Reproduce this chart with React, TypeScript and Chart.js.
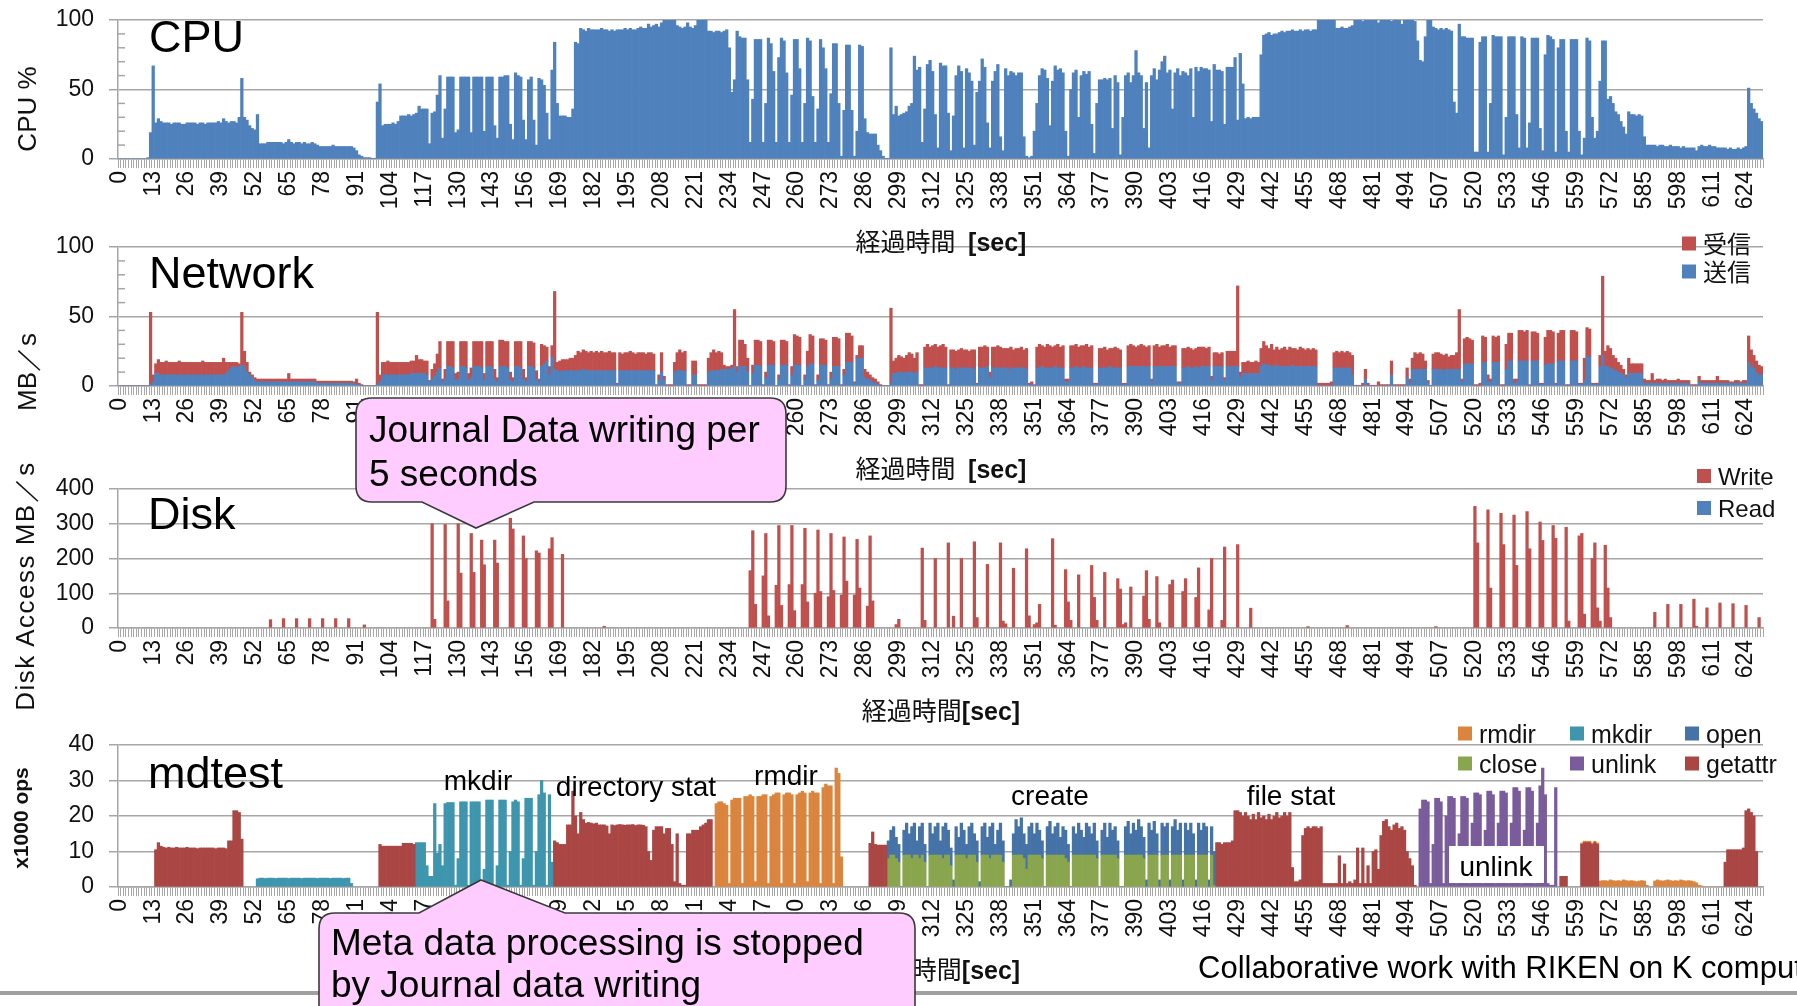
import React, { useEffect, useRef } from "react";
import { Chart, registerables } from "chart.js";

Chart.register(...registerables);

const W = 1797;
const H = 1006;
const N_SECONDS = 631;
const LABEL_STEP = 13;
const seconds = Array.from({ length: N_SECONDS }, (_, i) => String(i));

const LATIN = '"Liberation Sans", Arial, Helvetica, sans-serif';
const CJK = '"Noto Sans CJK JP", "Noto Sans CJK SC", sans-serif';

const BLUE = "#4F81BD";
const RED = "#C0504D";
const MD_GETATTR = "#AA4643";
const MD_RMDIR = "#DB843D";
const MD_MKDIR = "#3D96AE";
const MD_CLOSE = "#89A54E";
const MD_OPEN = "#4572A7";
const MD_UNLINK = "#7A5C9C";

// ---------------- CPU % (one value per second) ----------------
const cpuUsage = [
  0,0,0,0,0,0,0,0,0,0,0,1,19,
  67,26,29,27,26,26,26,25,26,26,26,25,25,
  26,26,26,26,25,26,26,25,26,26,26,26,27,
  26,29,27,26,27,27,26,30,58,30,28,24,22,
  21,32,11,11,11,12,12,12,12,12,12,11,12,
  14,12,11,12,12,11,12,11,11,12,11,10,9,
  9,9,9,9,10,9,9,9,9,9,9,9,8,
  6,3,2,1,1,1,0.5,0.5,41,54,24,25,25,
  25,26,25,27,31,31,31,32,31,32,33,38,36,
  36,36,11,33,34,46,60,15,36,59,59,59,19,
  21,59,59,59,59,19,59,59,59,59,20,59,59,
  59,24,15,59,59,60,60,25,14,62,60,59,28,
  14,57,59,28,10,58,57,53,33,14,64,84,40,
  31,31,31,30,30,36,84,83,94,93,92,94,93,
  93,93,93,94,93,93,92,93,92,93,93,93,94,
  93,94,93,93,94,95,94,94,97,95,96,97,95,
  98,100,100,100,100,100,96,95,94,95,98,95,94,
  96,100,100,100,100,92,92,91,92,92,91,92,93,
  80,48,57,92,88,87,87,57,12,43,86,86,86,
  12,40,87,83,63,12,73,87,85,62,12,46,86,
  86,65,12,40,87,85,45,12,36,86,80,65,12,
  47,83,83,40,2,35,82,82,35,2,20,82,81,
  29,19,18,18,18,10,6,2,0.5,0.5,80,32,38,
  31,32,33,34,38,40,74,64,66,12,36,68,71,
  63,32,8,69,67,67,33,6,31,60,67,63,8,
  65,62,56,10,48,56,72,66,26,8,56,63,68,
  16,6,65,60,63,62,60,62,62,16,2,1,2,
  20,40,60,65,64,58,24,56,67,64,65,62,20,
  2,50,62,64,30,60,63,61,63,25,4,40,57,
  57,58,57,58,22,60,55,3,30,60,62,55,60,
  78,62,60,22,55,8,60,65,57,64,70,74,62,
  64,36,62,65,60,63,62,60,65,30,66,63,66,
  65,65,64,27,68,64,64,63,25,66,66,66,73,
  28,76,54,29,30,29,30,30,30,75,89,90,91,
  89,90,90,91,92,91,92,92,93,92,92,93,92,
  93,93,92,93,93,100,100,100,100,100,100,100,94,
  94,95,94,94,95,96,100,100,100,99,100,100,100,
  100,100,98,100,100,100,100,99,100,100,100,97,100,
  100,100,100,99,85,71,70,88,100,100,95,94,93,
  94,93,94,93,92,41,33,97,88,88,87,87,87,
  5,5,84,88,88,5,40,89,88,88,88,3,30,
  88,88,88,32,8,88,87,8,26,87,87,87,22,
  6,75,89,88,86,5,80,86,86,20,5,86,86,
  86,20,3,15,87,85,30,15,20,56,85,85,43,
  45,40,34,32,27,23,18,34,32,32,31,32,31,
  16,10,10,10,10,9,10,10,9,9,10,9,9,
  9,8,9,8,8,8,8,6,9,10,9,9,10,
  9,9,8,8,8,8,7,8,7,7,8,7,8,
  9,51,40,36,33,29,27,
];

// ---------------- Network MB/s: 送信 (send, bottom) ----------------
const netSend = [
  0,0,0,0,0,0,0,0,0,0,0,0,1,
  3,9,9,8,8,8,8,8,8,8,8,8,8,
  8,8,8,8,8,8,8,8,8,8,8,8,8,
  8,8,9,11,13,14,13,14,15,14,10,8,6,
  4,3,3,3,3,3,3,3,3,3,3,3,3,
  3,3,3,3,3,3,3,3,3,3,3,2,2,
  2,2,2,2,2,2,2,2,2,2,2,2,2,
  1,1,0.5,0,0,0,0,0,1,3,8,8,8,
  8,8,8,8,8,8,8,8,9,9,9,9,9,
  9,8,3,5,7,10,13,3,5,14,14,13,4,
  5,14,14,13,4,6,14,14,14,13,4,14,14,
  13,5,3,14,14,14,13,4,3,14,14,13,5,
  3,14,14,13,5,3,14,16,18,8,21,12,11,
  10,11,11,11,11,11,11,11,11,12,11,11,11,
  11,11,11,11,11,11,11,11,11,1,11,11,11,
  11,11,11,11,11,11,11,11,11,11,11,0,4,
  10,4,0,0,0,10,11,11,11,11,0,0,8,
  8,0,0,0,0,10,11,11,11,11,12,12,12,
  12,13,14,10,14,14,14,10,0,9,15,15,14,
  0,6,15,15,15,0,5,15,15,15,0,8,15,
  15,15,0,5,14,16,16,0,4,15,15,15,0,
  5,14,14,14,0,8,17,17,17,2,20,20,20,
  6,5,4,3,2,1,0.5,0,0,0,2,9,9,
  10,10,9,10,10,10,9,10,0,0,13,13,13,
  13,14,13,13,13,13,0,13,13,12,13,13,13,
  13,13,13,12,1,13,13,13,14,6,13,13,13,
  13,13,13,12,13,13,13,13,13,13,12,1,1,
  0,13,13,14,13,13,13,13,14,13,13,13,3,
  3,13,13,14,13,13,14,13,13,13,1,1,13,
  13,13,13,14,13,13,13,13,1,1,14,14,14,
  14,14,14,14,14,14,3,14,14,14,14,14,14,
  14,14,14,2,2,13,13,14,13,13,14,13,14,
  14,14,14,4,14,14,14,14,4,14,14,14,14,
  14,6,9,9,9,9,9,9,9,14,16,15,15,
  14,14,15,14,14,14,14,14,15,14,14,14,14,
  14,14,14,14,14,0,0,0,0,0,0,13,13,
  13,13,13,13,13,8,0,0,0,0,5,0,0,
  0,0,0,0,0,0,0,8,0,0,0,0,0,
  6,2,12,12,12,12,12,12,2,0,12,12,12,
  12,11,12,12,12,12,12,12,3,16,16,16,16,
  0,0,0,17,17,3,3,17,17,17,0,0,12,
  18,18,2,3,18,18,18,18,0,18,18,18,1,
  1,15,16,16,16,1,18,18,18,0,0,18,18,
  18,1,1,4,21,21,1,1,1,14,22,14,14,
  13,12,11,10,9,8,6,9,9,9,9,9,9,
  2,2,2,2,2,2,2,2,2,2,2,2,2,
  2,2,2,2,2,0,0,0,3,2,2,2,2,
  2,2,2,2,2,2,2,2,2,2,2,2,2,
  2,17,14,13,10,8,8,
];

// ---------------- Network MB/s: 受信 (receive, stacked on top) ----------------
const netRecv = [
  0,0,0,0,0,0,0,0,0,0,0,0,52,
  5,7,10,9,9,10,9,9,9,9,10,9,9,
  9,9,9,9,9,9,10,9,9,9,9,9,9,
  9,12,8,6,4,3,4,2,38,11,7,2,2,
  2,2,2,2,2,2,2,2,2,2,2,2,2,
  6,2,2,2,2,2,2,2,2,2,2,1.5,1.5,
  1.5,1.5,1.5,1.5,1.5,1.5,1.5,1.5,1.5,1.5,1.5,1.5,1,
  4,1,0.5,0,0,0,0,0,52,5,9,9,10,
  9,9,9,9,9,9,9,9,9,9,13,10,10,
  9,10,1,7,9,13,19,2,7,18,18,19,5,
  5,18,18,19,5,7,18,18,18,19,5,18,18,
  19,7,3,19,19,18,19,6,3,18,18,19,7,
  3,18,18,18,6,2,16,13,10,6,8,56,6,
  8,8,8,8,9,9,11,14,13,14,14,13,14,
  13,14,13,14,13,13,14,13,13,1,13,12,13,
  13,14,13,12,13,13,13,12,13,13,12,1,4,
  14,3,1,1,1,7,13,15,13,14,1,1,10,
  10,1,1,1,1,10,13,15,13,14,12,3,2,
  2,2,41,4,19,19,16,10,0,6,18,18,18,
  1,4,18,18,17,0,3,18,18,17,1,6,22,
  21,20,0,3,11,21,20,1,4,19,19,18,1,
  5,21,21,20,1,4,21,21,19,1,2,9,9,
  6,5,4,3,3,2,0.5,0,0,0,54,9,11,
  12,11,11,12,14,13,11,14,1,1,15,17,15,
  16,16,15,16,17,15,1,13,13,13,13,14,13,
  13,12,13,14,1,15,15,16,14,4,15,15,16,
  15,14,14,15,15,13,14,14,15,13,15,1,2,
  1,15,17,15,15,17,16,15,15,17,15,16,2,
  2,16,16,16,15,16,15,17,15,16,1,1,14,
  14,15,13,13,14,15,14,13,1,1,15,16,15,
  14,15,16,15,14,15,2,15,16,14,15,15,16,
  14,15,15,1,1,14,14,14,14,13,13,15,14,
  14,13,14,3,10,10,9,10,2,11,11,11,11,
  58,4,8,8,9,8,8,9,8,13,16,14,12,
  16,12,13,12,13,14,12,14,12,13,12,14,13,
  12,13,12,13,12,2,2,2,2,2,3,11,12,
  11,12,11,12,11,14,0.5,0.5,0.5,2,7,2,0.5,
  0.5,0.5,3,1,1,1,1,10,1,1,1,1,1,
  7,3,8,12,11,12,11,6,2,0.5,11,12,12,
  11,11,11,9,10,10,12,43,2,18,19,18,17,
  1,1,2,19,18,5,2,19,18,19,1,1,18,
  20,20,3,2,22,22,21,22,1,21,21,20,1,
  1,20,24,24,23,1,20,22,22,1,1,22,22,
  21,1,1,16,21,20,1,1,1,8,57,11,15,
  14,10,9,7,6,4,2,11,7,7,7,7,7,
  3,2,2,7,2,3,3,2,3,2,2,2,2,
  3,2,2,2,2,1,1,1,4,2,2,2,2,
  2,2,5,2,2,2,2,1,1,2,2,1,2,
  2,19,12,9,8,7,6,
];

// ---------------- Disk Access MB/s: [second, MB/s] ----------------
const diskWrite: [number, number][] = [
  [58,24],[63,27],[68,27],[73,27],[78,27],[83,27],[88,27],[94,9],
  [120,300],[121,25],[125,298],[126,78],[130,300],[131,158],[135,272],[136,160],
  [139,253],[140,182],[144,253],[145,187],[150,316],[151,285],[155,265],[156,200],
  [160,222],[161,216],[165,228],[166,260],[170,212],[186,5],
  [242,165],[243,280],[244,68],[247,150],[248,272],[249,35],[252,123],[253,295],[254,65],
  [257,125],[258,295],[259,50],[262,125],[263,287],[264,75],[267,100],[268,282],[269,105],
  [272,90],[273,272],[274,108],[277,95],[278,262],[279,135],[282,95],[283,255],[284,115],
  [287,63],[288,265],[289,78],[298,10],[299,25],
  [308,230],[309,22],[313,200],[318,245],[320,34],[323,200],[328,248],[329,30],[333,183],
  [338,245],[339,20],[340,12],[343,172],[348,228],[349,35],[351,10],[352,15],[353,68],
  [358,257],[359,8],[363,168],[364,75],[365,22],[368,153],[373,180],[374,88],[375,22],
  [378,160],[383,142],[384,112],[385,10],[386,15],[388,118],[393,92],[394,165],[395,25],
  [398,148],[399,15],[403,125],[404,138],[408,105],[409,142],[413,88],[414,173],
  [418,52],[419,200],[423,22],[424,233],[429,240],[434,57],[456,4],[471,7],[505,4],
  [520,350],[521,245],[525,340],[526,115],[530,330],[531,240],[535,325],[536,180],
  [540,335],[541,228],[545,305],[546,252],[550,295],[551,258],[555,290],[556,20],
  [560,265],[561,272],[562,40],[565,200],[566,245],[567,58],[568,20],[570,238],[571,115],[572,30],
  [589,45],[594,68],[599,68],[604,83],[605,5],[609,58],[614,72],[619,70],[624,65],[629,30],
];
const diskRead: [number, number][] = [];

// ---------------- mdtest x1000 ops: [start second, values...] ----------------
type Run = [number, number[]];
const mdGetattr: Run[] = [
  [14, [10.5,12.5,11.5,11.2,11,11.2,11,11,11.2,11,11,11,11.2,11,11,11,10.8,11,11,11,11,11,11,10.8,11,11,11,10.8,13,13,21.5,21.5,21,13.5]],
  [100, [12,11.5,11.5,11.5,11.5,11.5,11.5,11.5,11.5,12.3,12.3,12.3,12.3,12]],
  [167, [13,12.5,12,12,12,17.5,17.5,27,20,15,21,19,18,18.2,18,17.8,18,17.5,17.5,17.5,17.2,15,
    17.5,17.3,17.5,17.6,17.5,17.4,17.5,17.5,17.6,17.3,17.5,17.5,17.4,
    17,10,7.5,16,17,17,17,15,16.5,16.5,12,1.5,15,1,0.5,0.5,15,15,16,16,16,17,17.5,18,19,19]],
  [288, [12.3,15.5,12,11.8,11.8,11.8,11.8]],
  [421, [12.5,12.5,12,12.5,12.5,12.5,13,21.5,21.5,21,
    20,21,20,19,20.5,19,21,19.5,20,19,
    20.5,19,20,21,19.5,20,21,20,21,5.5,
    1.5,1.5,2,14.5,16.5,17,16.5,17,17,16.5,
    17,1,1,1,1,1,1,8.8,1,6.5,
    1,1.5,1,2,11,1,11,1,6,1,
    10,10.5,5,14.5,18.5,19,17,16,17.5,18,
    16.5,17,16,10,8,6,0.5]],
  [553, [3,3,3]],
  [561, [12,12.5,12.5,12.5,12,12.5,12]],
  [616, [7,10.5,10.5,10.5,10.5,10.5,10.5,11,21.5,22,21,20,10]],
];
const mdRmdir: Run[] = [
  [229, [23.5,24,24,23.5,23,1,24.5,25,25,25,1,25.5,25.5,26,25.5,1.5,25.5,25.5,26,26,1,
    25.5,26,26.5,26.5,1,26,26.5,26.5,26,1,26,26.5,27,26.5,1.5,26.5,27,26.5,26.5,1,
    28,29,28.5,28.5,1,33.5,32,8.5]],
  [561, [0.4,0.4,0.4,0.4,0.4,0.4,0.4]],
  [568, [1.7,1.8,1.8,1.7,2,1.8,1.7,1.8,1.7,2,1.8,1.7,1.8,1.7,1.5,1.7,1.8,1.7,0.5]],
  [589, [1.7,2,1.8,1.7,1.8,2,1.8,1.7,1.8,1.7,2,1.8,1.7,1.8,1.7,1.5,1.2,0.5,0.3]],
];
const mdMkdir: Run[] = [
  [53, [2.3,2.5,2.5,2.4,2.5,2.5,2.5,2.4,2.5,2.5,2.5,2.5,2.4,2.5,2.5,2.5,2.5,2.4,2.5,2.5,2.5,
    2.5,2.5,2.4,2.5,2.5,2.5,2.5,2.4,2.5,2.5,2.5,2.5,2.4,2.5,2.5,1]],
  [114, [12.5,12.5,12.5,12.5,6,3,3,23.5,9.5,12,6,23.5,23.8,23.8,23.8,0.5,8,24,24,24,0.5,
    24,24,24,24,0.5,5,24.5,24.5,24.5,0.5,6,24.5,24.5,24.5,0.5,10,24,24.5,24,0.5,
    8,25,25,25,0.5,10,26,30,26.5,0.5,26,7]],
];
const mdClose: Run[] = [
  [295, [8,9,9,8,7,0,9,9,9,8,9,9,8,
    9,7,0,9,9,9,9,9,8,9,9,6,0,
    9,9,9,9,8,9,9,9,7,0,9,9,9,
    8,9,9,9,9,7,0,0,0,9,9,9,9,
    8,5,9,9,9,9,9,8,0,9,9,9,9,
    9,9,9,8,7,0,9,9,9,9,9,9,9,
    9,9,8,0,9,9,9,9,9,9,8,0,0,
    9,9,9,9,9,9,9,8,0,9,9,9,9,
    0,9,9,9,0,9,9,9,9,0,9,9,9,
    9,0,9,9,9,9,0,9,0.5]],
];
const mdOpen: Run[] = [
  [295, [5,7,8,6,5,0,7,9,6,9,9,4,9,
    9,5,0,9,6,8,9,4,9,9,7,5,2,
    8,5,9,7,4,8,9,6,6,1.5,8,9,5,
    9,9,3,7,9,6,0,0,2,6,10,8,10.5,
    7,7,8,9,6,9,7,5,0,8,9.5,6,8,
    9,5,8,8,5,0,8,6,9,7,5,9,8,
    6,9,5,0,7,9,5,9,7,8,5,0,0,
    8,9.5,6,9,7,10,8,6,2,9,7,9.5,6,
    2,9,8,9,2,8,10,7,9,2,9,7,9,
    6,2,9,7,9,8,2,8,9.5]],
];
const mdUnlink: Run[] = [
  [499, [22,24.5,24.5,24,1,12,25,25,24,1,20,25.5,25.5,25,1,15,25.5,25.5,25,1,
    18,26.5,26.5,26,1,16,27,27,26,1,18,27,27,26.5,1,18,28,28,27,1,
    16,28,28,27,1,18,28.5,33.5,26,1,0.5,0.5,28]],
];

function fromRuns(runs: Run[]) {
  const a: (number | null)[] = new Array(N_SECONDS).fill(null);
  for (const [start, vals] of runs) vals.forEach((v, k) => { if (start + k < N_SECONDS) a[start + k] = v; });
  return a;
}
function fromPoints(pts: [number, number][]) {
  const a: (number | null)[] = new Array(N_SECONDS).fill(null);
  for (const [i, v] of pts) a[i] = v;
  return a;
}

// ---------------- layout ----------------
const PLOT_LEFT = 118;
const PLOT_RIGHT = 1763;
const PAD_TOP = 15;
const X_AXIS_H = 75;

type DS = { label: string; data: (number | null)[]; color: string };
type PanelSpec = { id: string; top: number; bottom: number; yMax: number; yStep: number; minorStep?: number; datasets: DS[] };

const PANELS: PanelSpec[] = [
  { id: "cpu", top: 20, bottom: 159, yMax: 100, yStep: 50, minorStep: 10,
    datasets: [{ label: "CPU", data: cpuUsage, color: BLUE }] },
  { id: "net", top: 247, bottom: 386, yMax: 100, yStep: 50, minorStep: 10,
    datasets: [
      { label: "送信", data: netSend, color: BLUE },
      { label: "受信", data: netRecv, color: RED },
    ] },
  { id: "disk", top: 489, bottom: 628, yMax: 400, yStep: 100,
    datasets: [
      { label: "Write", data: fromPoints(diskWrite), color: RED },
      { label: "Read", data: fromPoints(diskRead), color: BLUE },
    ] },
  { id: "md", top: 745, bottom: 887, yMax: 40, yStep: 10,
    datasets: [
      { label: "getattr", data: fromRuns(mdGetattr), color: MD_GETATTR },
      { label: "rmdir", data: fromRuns(mdRmdir), color: MD_RMDIR },
      { label: "mkdir", data: fromRuns(mdMkdir), color: MD_MKDIR },
      { label: "close", data: fromRuns(mdClose), color: MD_CLOSE },
      { label: "open", data: fromRuns(mdOpen), color: MD_OPEN },
      { label: "unlink", data: fromRuns(mdUnlink), color: MD_UNLINK },
    ] },
];

function minorTickPlugin(step: number, major: number) {
  return {
    id: "minorTicks",
    afterDraw(chart: any) {
      const y = chart.scales.y;
      const ctx = chart.ctx;
      const left = chart.chartArea.left;
      ctx.save();
      ctx.strokeStyle = "#A6A6A6";
      ctx.lineWidth = 1.5;
      for (let v = y.min + step; v < y.max; v += step) {
        if (v % major === 0) continue;
        const py = y.getPixelForValue(v);
        ctx.beginPath();
        ctx.moveTo(left, py);
        ctx.lineTo(left + 7, py);
        ctx.stroke();
      }
      ctx.restore();
    },
  };
}

function buildConfig(p: PanelSpec): any {
  return {
    type: "bar",
    data: {
      labels: seconds,
      datasets: p.datasets.map((d) => ({
        label: d.label,
        data: d.data,
        backgroundColor: d.color,
        borderWidth: 0,
        barPercentage: 1,
        categoryPercentage: 1,
      })),
    },
    options: {
      responsive: false,
      animation: false,
      devicePixelRatio: 1,
      events: [],
      layout: { padding: { top: PAD_TOP, right: W - PLOT_RIGHT, bottom: 0, left: 0 } },
      plugins: { legend: { display: false }, tooltip: { enabled: false }, title: { display: false } },
      scales: {
        x: {
          type: "category",
          stacked: true,
          offset: true,
          grid: { drawOnChartArea: false, drawTicks: true, tickLength: 9, color: "#A6A6A6", lineWidth: 1, offset: true },
          border: { display: true, color: "#A6A6A6", width: 1.5 },
          ticks: {
            autoSkip: false,
            minRotation: 90,
            maxRotation: 90,
            padding: 3,
            color: "#111",
            font: { family: LATIN, size: 23 },
            callback: (_v: any, i: number) => (i % LABEL_STEP === 0 ? seconds[i] : ""),
          },
          afterFit: (s: any) => { s.height = X_AXIS_H; s.paddingLeft = 0; s.paddingRight = 0; },
        },
        y: {
          stacked: true,
          min: 0,
          max: p.yMax,
          ticks: { stepSize: p.yStep, padding: 15, color: "#111", font: { family: LATIN, size: 23 } },
          grid: { color: "#A6A6A6", lineWidth: 1.5, tickLength: 9, drawTicks: true },
          border: { display: true, color: "#A6A6A6", width: 1.5 },
          afterFit: (s: any) => { s.width = PLOT_LEFT; s.paddingTop = 0; s.paddingBottom = 0; },
        },
      },
    },
    plugins: p.minorStep ? [minorTickPlugin(p.minorStep, p.yStep)] : [],
  };
}

function ChartCanvas({ spec }: { spec: PanelSpec }) {
  const ref = useRef<HTMLCanvasElement | null>(null);
  useEffect(() => {
    if (!ref.current) return;
    const chart = new Chart(ref.current, buildConfig(spec));
    return () => chart.destroy();
  }, [spec]);
  const h = PAD_TOP + (spec.bottom - spec.top) + X_AXIS_H;
  return (
    <canvas
      ref={ref}
      width={W}
      height={h}
      style={{ position: "absolute", left: 0, top: spec.top - PAD_TOP, width: W, height: h }}
    />
  );
}

function XTitle({ y, gap }: { y: number; gap: boolean }) {
  return (
    <text x={941} y={y} textAnchor="middle" fontSize={25} fill="#111">
      <tspan fontFamily={CJK}>{"経過時間" + (gap ? "\u2002" : "")}</tspan>
      <tspan fontFamily={LATIN} fontWeight="bold">[sec]</tspan>
    </text>
  );
}

function LegendItem({ x, y, color, label, size, cjk }: { x: number; y: number; color: string; label: string; size: number; cjk?: boolean }) {
  return (
    <g>
      <rect x={x} y={y - 7} width={14} height={14} fill={color} />
      <text x={x + 21} y={y + (cjk ? 0.38 : 0.36) * size} fontSize={size} fontFamily={cjk ? CJK : LATIN} fill="#111">{label}</text>
    </g>
  );
}

const callout1 = "M372,398 H770 Q786,398 786,414 V486 Q786,502 770,502 H534 L476,528 L422,502 H372 Q356,502 356,486 V414 Q356,398 372,398 Z";
const callout2 = "M335,913 H419 L481,880 L565,913 H899 Q915,913 915,929 V1015 H319 V929 Q319,913 335,913 Z";

function Overlay() {
  return (
    <svg width={W} height={H} style={{ position: "absolute", left: 0, top: 0, pointerEvents: "none" }}>
      <text x={149} y={52} fontSize={45} fontFamily={LATIN} fill="#000">CPU</text>
      <text x={149} y={288} fontSize={45} fontFamily={LATIN} fill="#000">Network</text>
      <text x={148} y={529} fontSize={45} fontFamily={LATIN} fill="#000">Disk</text>
      <text x={148} y={788} fontSize={45} fontFamily={LATIN} fill="#000">mdtest</text>

      <text transform="translate(36,109) rotate(-90)" textAnchor="middle" fontSize={26} fontFamily={LATIN} fill="#111">CPU %</text>
      <text transform="translate(36,372) rotate(-90)" textAnchor="middle" fontSize={26} fontFamily={LATIN} fill="#111">MB／s</text>
      <text transform="translate(34,586) rotate(-90)" textAnchor="middle" fontSize={26} letterSpacing={1.5} fontFamily={LATIN} fill="#111">Disk Access MB／s</text>
      <text transform="translate(28,818) rotate(-90)" textAnchor="middle" fontSize={21} fontWeight="bold" fontFamily={LATIN} fill="#111">x1000 ops</text>

      <XTitle y={251} gap={true} />
      <XTitle y={478} gap={true} />
      <XTitle y={720} gap={false} />
      <XTitle y={979} gap={false} />

      <LegendItem x={1682} y={243.5} color={RED} label="受信" size={24} cjk />
      <LegendItem x={1682} y={271.5} color={BLUE} label="送信" size={24} cjk />
      <LegendItem x={1697} y={476} color={RED} label="Write" size={24} />
      <LegendItem x={1697} y={508} color={BLUE} label="Read" size={24} />
      <LegendItem x={1458} y={733.5} color={MD_RMDIR} label="rmdir" size={25} />
      <LegendItem x={1570} y={733.5} color={MD_MKDIR} label="mkdir" size={25} />
      <LegendItem x={1685} y={733.5} color={MD_OPEN} label="open" size={25} />
      <LegendItem x={1458} y={763.5} color={MD_CLOSE} label="close" size={25} />
      <LegendItem x={1570} y={763.5} color={MD_UNLINK} label="unlink" size={25} />
      <LegendItem x={1685} y={763.5} color={MD_GETATTR} label="getattr" size={25} />

      <text x={478} y={790} textAnchor="middle" fontSize={28} fontFamily={LATIN} fill="#000">mkdir</text>
      <text x={636} y={796} textAnchor="middle" fontSize={28} fontFamily={LATIN} fill="#000">directory stat</text>
      <text x={786} y={785} textAnchor="middle" fontSize={28} fontFamily={LATIN} fill="#000">rmdir</text>
      <text x={1050} y={805} textAnchor="middle" fontSize={28} fontFamily={LATIN} fill="#000">create</text>
      <text x={1291} y={805} textAnchor="middle" fontSize={28} fontFamily={LATIN} fill="#000">file stat</text>
      <rect x={1449} y={846} width={95} height={37} fill="#FFFFFF" />
      <text x={1496} y={876} textAnchor="middle" fontSize={28} fontFamily={LATIN} fill="#000">unlink</text>

      <rect x={0} y={991} width={W} height={4} fill="#A0A0A0" />
      <text x={1198} y={978} fontSize={31} fontFamily={LATIN} fill="#000">Collaborative work with RIKEN on K computer</text>

      <path d={callout1} fill="#FFCCFF" stroke="#3A3A3A" strokeWidth={1.6} />
      <text x={369} y={442} fontSize={37} fontFamily={LATIN} fill="#000">Journal Data writing per</text>
      <text x={369} y={486} fontSize={37} fontFamily={LATIN} fill="#000">5 seconds</text>
      <path d={callout2} fill="#FFCCFF" stroke="#3A3A3A" strokeWidth={1.6} />
      <text x={331} y={955} fontSize={37} fontFamily={LATIN} fill="#000">Meta data processing is stopped</text>
      <text x={331} y={997} fontSize={37} fontFamily={LATIN} fill="#000">by Journal data writing</text>
    </svg>
  );
}

export default function App() {
  return (
    <div style={{ position: "absolute", left: 0, top: 0, width: W, height: H, overflow: "hidden", background: "#FFFFFF" }}>
      {PANELS.map((p) => (
        <ChartCanvas key={p.id} spec={p} />
      ))}
      <Overlay />
    </div>
  );
}
